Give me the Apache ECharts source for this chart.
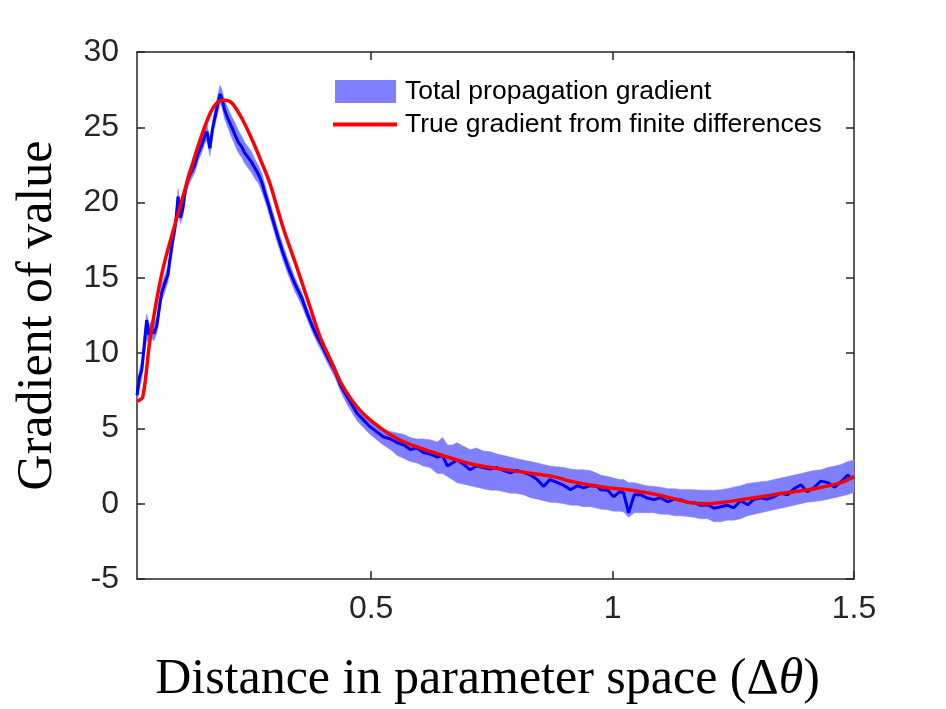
<!DOCTYPE html>
<html>
<head>
<meta charset="utf-8">
<script src="https://cdn.jsdelivr.net/npm/echarts@6/dist/echarts.min.js"></script>
<style>
  html, body { margin: 0; padding: 0; background: #fff; }
  #chart { width: 946px; height: 709px; }
</style>
</head>
<body>
<div id="chart"></div>
<script>
// --- 数据：读自原图 ---
const xTicks = [0.5, 1, 1.5];

// 带状区与均值曲线共享的横坐标
const bandX = [
  0.015, 0.020, 0.025, 0.030, 0.035, 0.040, 0.045, 0.050, 0.056, 0.062,
  0.066, 0.072, 0.079, 0.084, 0.089, 0.095, 0.100, 0.105, 0.110, 0.115,
  0.120, 0.127, 0.135, 0.142, 0.149, 0.155, 0.160, 0.166, 0.171, 0.176,
  0.182, 0.187, 0.191, 0.196, 0.203, 0.210, 0.218, 0.225, 0.232, 0.238,
  0.245, 0.252, 0.259, 0.266, 0.274, 0.280, 0.286, 0.296, 0.307, 0.317,
  0.328, 0.342, 0.357, 0.368, 0.378, 0.388, 0.398, 0.410, 0.425, 0.436,
  0.450, 0.471, 0.498, 0.525, 0.540, 0.554, 0.568, 0.581, 0.595, 0.608,
  0.622, 0.637, 0.648, 0.658, 0.668, 0.678, 0.692, 0.705, 0.718, 0.732,
  0.747, 0.761, 0.775, 0.788, 0.800, 0.815, 0.830, 0.844, 0.857, 0.870,
  0.886, 0.900, 0.913, 0.927, 0.940, 0.954, 0.969, 0.975, 0.990, 1.002,
  1.015, 1.023, 1.033, 1.045, 1.058, 1.070, 1.085, 1.100, 1.114, 1.128,
  1.141, 1.155, 1.168, 1.183, 1.197, 1.210, 1.224, 1.237, 1.251, 1.265,
  1.280, 1.293, 1.307, 1.320, 1.334, 1.348, 1.363, 1.376, 1.390, 1.403,
  1.417, 1.431, 1.446, 1.460, 1.473, 1.487, 1.494, 1.500
];
// 均值（深蓝线）
const meanY = [
  7.2, 8.4, 8.9, 10.5, 12.2, 11.2, 11.6, 11.3, 11.8, 13.2,
  14.0, 14.6, 15.2, 16.4, 17.5, 18.6, 20.4, 19.0, 19.6, 20.8,
  21.5, 22.0, 22.5, 23.3, 23.8, 24.4, 24.7, 23.6, 24.8, 25.6,
  26.5, 27.2, 26.9, 26.2, 25.6, 25.1, 24.5, 24.0, 23.7, 23.3,
  23.0, 22.7, 22.3, 21.9, 21.3, 20.6, 20.0, 18.9, 17.7, 16.7,
  15.7, 14.6, 13.6, 12.6, 11.8, 11.1, 10.5, 9.7, 8.8, 7.9,
  7.1, 6.0, 5.1, 4.45, 4.3, 4.05, 3.9, 3.6, 3.7, 3.4,
  3.3, 3.1, 3.2, 2.5, 2.7, 2.9, 2.6, 2.25, 2.5, 2.4,
  2.3, 2.4, 2.2, 2.05, 2.2, 2.1, 1.9, 1.6, 1.15, 1.6,
  1.4, 1.2, 0.93, 1.2, 1.05, 1.2, 1.15, 0.93, 0.9, 0.46,
  0.8, 0.7, -0.6, 0.6, 0.6, 0.4, 0.27, 0.4, 0.13, 0.3,
  0.27, 0.1, 0.07, -0.1, -0.07, -0.3, -0.2, -0.1, -0.27, 0.2,
  -0.07, 0.3, 0.4, 0.3, 0.46, 0.7, 0.6, 1.0, 1.26, 0.8,
  1.06, 1.5, 1.4, 1.1, 1.46, 1.9, 1.7, 1.8
];
// 带状区下沿
const bandLow = [
  6.7, 7.6, 8.3, 9.8, 10.9, 10.6, 11.0, 10.8, 11.3, 12.6,
  13.5, 14.0, 14.7, 15.8, 16.9, 18.0, 19.6, 18.6, 19.1, 20.3,
  21.0, 21.5, 22.0, 22.8, 23.3, 23.9, 24.1, 23.1, 24.3, 25.1,
  25.9, 26.6, 26.3, 25.6, 25.0, 24.4, 23.8, 23.3, 23.0, 22.6,
  22.3, 22.0, 21.6, 21.3, 20.7, 20.1, 19.5, 18.4, 17.2, 16.2,
  15.2, 14.1, 13.1, 12.2, 11.4, 10.7, 10.1, 9.3, 8.4, 7.5,
  6.6, 5.5, 4.6, 3.9, 3.6, 3.2, 3.0, 2.8, 2.7, 2.5,
  2.4, 2.0, 2.0, 1.8, 1.6, 1.4, 1.3, 1.2, 1.1, 1.0,
  0.9, 0.9, 0.8, 0.7, 0.7, 0.6, 0.4, 0.3, 0.2, 0.1,
  0.07, 0.0, -0.1, -0.1, -0.2, -0.2, -0.3, -0.35, -0.4, -0.5,
  -0.5, -0.55, -0.9, -0.6, -0.6, -0.6, -0.6, -0.7, -0.7, -0.8,
  -0.8, -0.85, -0.9, -1.0, -1.0, -1.2, -1.2, -1.1, -1.1, -1.0,
  -0.8, -0.7, -0.6, -0.5, -0.4, -0.3, -0.2, -0.1, 0.0, 0.1,
  0.15, 0.2, 0.3, 0.4, 0.5, 0.6, 0.7, 0.73
];
// 带状区上沿
const bandHigh = [
  7.6, 8.9, 9.6, 11.4, 12.6, 11.9, 12.1, 12.0, 12.4, 13.7,
  14.6, 15.1, 15.8, 16.9, 18.0, 19.1, 20.9, 19.6, 20.2, 21.3,
  22.0, 22.5, 23.0, 23.8, 24.3, 24.9, 25.2, 24.2, 25.3, 26.2,
  27.1, 27.8, 27.5, 26.8, 26.3, 25.8, 25.3, 24.8, 24.4, 24.0,
  23.7, 23.4, 22.9, 22.5, 21.9, 21.2, 20.5, 19.4, 18.2, 17.2,
  16.2, 15.0, 14.0, 13.0, 12.2, 11.5, 10.9, 10.1, 9.2, 8.3,
  7.5, 6.4, 5.5, 4.9, 4.8, 4.7, 4.6, 4.4, 4.3, 4.3,
  4.25, 4.1, 4.4, 3.9, 3.9, 4.05, 3.8, 3.6, 3.7, 3.5,
  3.45, 3.3, 3.2, 3.1, 3.0, 2.9, 2.8, 2.7, 2.6, 2.5,
  2.45, 2.4, 2.3, 2.25, 2.25, 2.2, 2.0, 1.9, 1.8, 1.7,
  1.6, 1.6, 1.4, 1.4, 1.3, 1.2, 1.15, 1.1, 1.0, 1.0,
  0.95, 0.95, 0.93, 0.9, 0.9, 0.9, 0.93, 1.0, 1.1, 1.2,
  1.35, 1.4, 1.46, 1.5, 1.6, 1.7, 1.8, 1.9, 2.0, 2.1,
  2.2, 2.25, 2.4, 2.5, 2.6, 2.8, 2.85, 2.9
];

// 有限差分得到的真实梯度（红线）
const trueX = [
  0.015, 0.027, 0.042, 0.068, 0.104, 0.139, 0.166, 0.183, 0.197, 0.212,
  0.232, 0.253, 0.274, 0.290, 0.317, 0.346, 0.373, 0.394, 0.415, 0.436,
  0.457, 0.477, 0.504, 0.539, 0.575, 0.643, 0.712, 0.782, 0.845, 0.878,
  0.919, 0.990, 1.040, 1.093, 1.130, 1.162, 1.197, 1.230, 1.266, 1.334,
  1.405, 1.438, 1.473, 1.500
];
const trueY = [
  6.8, 7.1, 10.9, 15.5, 19.7, 23.5, 25.9, 26.7, 26.8, 26.6,
  25.6, 24.2, 22.6, 21.3, 18.4, 15.7, 13.1, 11.1, 9.6, 8.1,
  7.0, 6.2, 5.4, 4.6, 4.0, 3.25, 2.6, 2.25, 1.95, 1.8,
  1.45, 1.06, 0.9, 0.6, 0.3, 0.07, 0.0, 0.1, 0.27, 0.6,
  0.93, 1.13, 1.4, 1.8
];

const NAME_BAND = 'Total propagation gradient';
const NAME_TRUE = 'True gradient from finite differences';

// 配色
const COLORS = {
  axis: '#262626',
  band: '#8080ff',
  mean: '#0000ff',
  truth: '#ff0000'
};

const chart = echarts.init(document.getElementById('chart'));

const bandData = bandX.map((x, i) => [x, bandLow[i], bandHigh[i]]);
const meanData = bandX.map((x, i) => [x, meanY[i]]);
const trueData = trueX.map((x, i) => [x, trueY[i]]);

// 带状区：上沿正向 + 下沿反向，拼成一个多边形
const renderBand = (params, api) => {
  if (params.dataIndex !== 0) return null;
  const upper = bandData.map(d => api.coord([d[0], d[2]]));
  const lower = bandData.map(d => api.coord([d[0], d[1]])).reverse();
  return {
    type: 'polygon',
    shape: { points: upper.concat(lower) },
    style: { fill: COLORS.band, stroke: COLORS.band, lineWidth: 0.5 }
  };
};

const SANS = 'Liberation Sans, Arial, sans-serif';
const SERIF = 'Liberation Serif, Times New Roman, serif';
const tickFont = { color: COLORS.axis, fontSize: 32, fontFamily: SANS };
const boxAxisLine = { show: true, onZero: false, lineStyle: { color: COLORS.axis, width: 1.5 } };
const boxTick = { show: true, inside: true, length: 8, lineStyle: { color: COLORS.axis, width: 1.5 } };
const legendText = { fontSize: 26.5, color: '#000', fontFamily: SANS };

const option = {
  backgroundColor: '#fff',
  animation: false,
  // v6 默认会按标签收缩网格，这里关掉，保持固定位置
  grid: { left: 137, right: 92, top: 52, bottom: 130, containLabel: false, outerBoundsMode: 'none' },
  legend: [
    {
      data: [NAME_BAND],
      selectedMode: false,
      left: 335, top: 78, padding: 0,
      icon: 'rect', itemWidth: 61, itemHeight: 23,
      itemStyle: { color: COLORS.band, borderWidth: 0 },
      textStyle: Object.assign({ padding: [0, 0, 0, 4] }, legendText)
    },
    {
      data: [NAME_TRUE],
      selectedMode: false,
      left: 333, top: 111, padding: 0,
      icon: 'rect', itemWidth: 64, itemHeight: 4,
      itemStyle: { borderWidth: 0 },
      textStyle: Object.assign({ padding: [0, 0, 0, 3] }, legendText)
    }
  ],
  xAxis: [
    {
      type: 'value', min: 0.015, max: 1.5,
      axisLine: boxAxisLine,
      axisTick: Object.assign({ customValues: xTicks }, boxTick),
      axisLabel: Object.assign({ customValues: xTicks, margin: 14, formatter: v => String(v) }, tickFont),
      splitLine: { show: false },
      name: '{r|Distance in parameter space (Δ}{i|θ}{r|)}',
      nameLocation: 'middle', nameGap: 76,
      nameTextStyle: {
        padding: [0, 16, 0, 0],
        rich: {
          r: { fontFamily: SERIF, fontSize: 50, color: '#000' },
          i: { fontFamily: SERIF, fontSize: 50, fontStyle: 'italic', color: '#000' }
        }
      }
    },
    {
      type: 'value', min: 0.015, max: 1.5, position: 'top',
      axisLine: boxAxisLine,
      axisTick: Object.assign({ customValues: xTicks }, boxTick),
      axisLabel: { show: false },
      splitLine: { show: false }
    }
  ],
  yAxis: [
    {
      type: 'value', min: -5, max: 30, interval: 5,
      axisLine: boxAxisLine,
      axisTick: boxTick,
      axisLabel: Object.assign({ margin: 18 }, tickFont),
      splitLine: { show: false },
      name: 'Gradient of value',
      nameLocation: 'middle', nameGap: 74,
      nameTextStyle: { fontFamily: SERIF, fontSize: 50, color: '#000' }
    },
    {
      type: 'value', min: -5, max: 30, interval: 5, position: 'right',
      axisLine: boxAxisLine,
      axisTick: boxTick,
      axisLabel: { show: false },
      splitLine: { show: false }
    }
  ],
  series: [
    {
      name: NAME_BAND, type: 'custom', data: bandData,
      encode: { x: 0, y: [1, 2] },
      renderItem: renderBand,
      itemStyle: { color: COLORS.band },
      silent: true, z: 1
    },
    {
      name: 'mean', type: 'line', data: meanData,
      symbol: 'none',
      lineStyle: { color: COLORS.mean, width: 3 },
      silent: true, z: 3
    },
    {
      name: NAME_TRUE, type: 'line', data: trueData,
      symbol: 'none', smooth: 0.3,
      itemStyle: { color: COLORS.truth },
      lineStyle: { color: COLORS.truth, width: 3.5 },
      silent: true, z: 4
    }
  ]
};

chart.setOption(option);
</script>
</body>
</html>
